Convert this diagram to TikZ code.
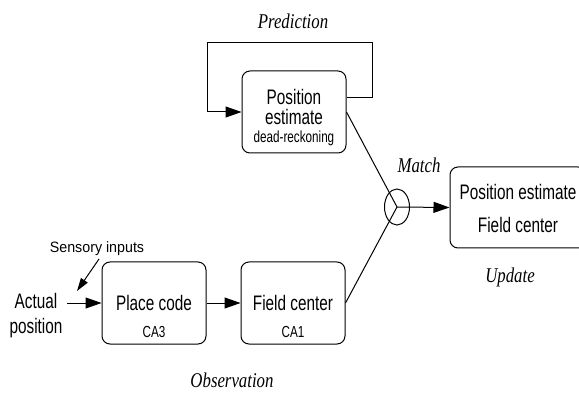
\documentclass[tikz,border=0pt]{standalone}
\usepackage{fontspec}
\setmainfont{Liberation Sans}[FakeStretch=0.73]
\newfontfamily\sensfont{Liberation Sans}[FakeStretch=0.95]
\newfontfamily\labfont{Liberation Serif}[FakeStretch=0.8]
\usetikzlibrary{arrows.meta,shapes.geometric}
\begin{document}
\begin{tikzpicture}[x=1pt,y=-1pt,
  box/.style={draw, line width=1pt, rounded corners=8pt, inner sep=0pt},
  big/.style={font=\fontsize{21}{20}\selectfont, inner sep=0pt, anchor=base},
  small/.style={font=\fontsize{16}{16}\selectfont, inner sep=0pt, anchor=base},
  lab/.style={font=\labfont\itshape\fontsize{21}{21}\selectfont, inner sep=0pt, anchor=base},
  conn/.style={line width=1pt},
  arr/.style={line width=1pt, -{Triangle[length=16pt,width=11pt]}},
  sarr/.style={line width=1pt, -{Triangle[length=13pt,width=8pt]}},
]
\useasboundingbox (0,0) rectangle (579,393);
\clip (0,0) rectangle (579,393);

% boxes
\node[box, minimum width=104pt, minimum height=82pt] (pe) at (294,112) {};
\node[big] (pe1) at (294,105) {Position};
\node[big] (pe2) at (294,125) {estimate};
\node[small] (pe3) at (294,143) {dead-reckoning};

\node[box, minimum width=104pt, minimum height=82pt] (pc) at (154,303) {};
\node[big] (pc1) at (154,310) {Place code};
\node[small] (pc2) at (154,337) {CA3};

\node[box, minimum width=104pt, minimum height=82pt] (fc) at (293,303) {};
\node[big] (fc1) at (293,310) {Field center};
\node[small] (fc2) at (293,337) {CA1};

\node[box, minimum width=136pt, minimum height=81pt] (out) at (518,207.5) {};
\node[big] (out1) at (518,200) {Position estimate};
\node[big] (out2) at (518,233) {Field center};

% match
\node[draw, ellipse, line width=1pt, inner sep=0pt, minimum width=25pt, minimum height=36pt] (m) at (397,207) {};
\coordinate (mc) at (397,207);

% actual position
\node[big] (act1) at (36,308) {Actual};
\node[big] (act2) at (36,333) {position};
\coordinate (actout) at (67,303);

% sensory inputs
\node[small, font=\sensfont\fontsize{15}{15}\selectfont] (sens) at (97,253) {Sensory inputs};
\coordinate (sensA) at (99,259);
\coordinate (sensB) at (77,291);

% labels
\node[lab] (pred) at (293,29) {Prediction};
\node[lab] (match) at (419,173) {Match};
\node[lab] (upd) at (510,283) {Update};
\node[lab] (obs) at (232,387) {Observation};

% connectors
\draw[arr] ([yshift=14pt]pe.east) -- ++(26,0) |- (207,43) |- (pe.west);
\draw[conn] (pe.east) -- (mc);
\draw[conn] (fc.east) -- (mc);
\draw[arr] (mc) -- (out.west);
\draw[arr] (actout) -- (pc.west);
\draw[arr] (pc.east) -- (fc.west);
\draw[sarr] (sensA) -- (sensB);
\end{tikzpicture}
\end{document}
